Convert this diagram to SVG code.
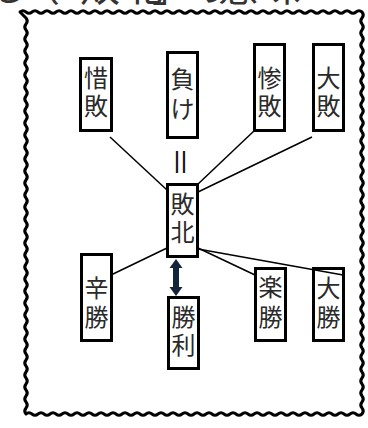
<svg xmlns="http://www.w3.org/2000/svg" width="368" height="428" viewBox="0 0 368 428">
<style>
.box{fill:#fff;stroke:#000;stroke-width:3}
.lbl{font-family:"Noto Sans CJK JP","Noto Sans CJK SC",sans-serif;font-size:24px;fill:#2a2a2a;text-anchor:middle}
.hdr{font-family:"Noto Sans CJK JP",sans-serif;font-size:40px;fill:#333;text-anchor:middle}
.con{stroke:#000;stroke-width:1.5;fill:none}
.frame{fill:none;stroke:#000;stroke-width:3;stroke-linejoin:round}
</style>
<rect width="368" height="428" fill="#fff"/>
<text class="hdr" y="0.5"><tspan x="8">る</tspan><tspan x="40">（</tspan><tspan x="68">「</tspan><tspan x="100">敗</tspan><tspan x="143">北</tspan><tspan x="172">」</tspan><tspan x="207">の</tspan><tspan x="238">意</tspan><tspan x="281">味</tspan></text>
<path class="frame" d="M20,12 q3,-2.5 6,0 t6 0 t6 0 t6 0 t6 0 t6 0 t6 0 t6 0 t6 0 t6 0 t6 0 t6 0 t6 0 t6 0 t6 0 t6 0 t6 0 t6 0 t6 0 t6 0 t6 0 t6 0 t6 0 t6 0 t6 0 t6 0 t6 0 t6 0 t6 0 t6 0 t6 0 t6 0 t6 0 t6 0 t6 0 t6 0 t6 0 t6 0 t6 0 t6 0 t6 0 t6 0 t6 0 t6 0 t6 0 t6 0 t6 0 t6 0 t6 0 t6 0 t6 0 t6 0 t6 0 t6 0 t6 0 t6 0 t6 0
q2.5,3 0,6 t0 6 t0 6 t0 6 t0 6 t0 6 t0 6 t0 6 t0 6 t0 6 t0 6 t0 6 t0 6 t0 6 t0 6 t0 6 t0 6 t0 6 t0 6 t0 6 t0 6 t0 6 t0 6 t0 6 t0 6 t0 6 t0 6 t0 6 t0 6 t0 6 t0 6 t0 6 t0 6 t0 6 t0 6 t0 6 t0 6 t0 6 t0 6 t0 6 t0 6 t0 6 t0 6 t0 6 t0 6 t0 6 t0 6 t0 6 t0 6 t0 6 t0 6 t0 6 t0 6 t0 6 t0 6 t0 6 t0 6 t0 6 t0 6 t0 6 t0 6 t0 6 t0 6 t0 6 t0 6 t0 6 t0 6
q-3,2.5 -6,0 t-6 0 t-6 0 t-6 0 t-6 0 t-6 0 t-6 0 t-6 0 t-6 0 t-6 0 t-6 0 t-6 0 t-6 0 t-6 0 t-6 0 t-6 0 t-6 0 t-6 0 t-6 0 t-6 0 t-6 0 t-6 0 t-6 0 t-6 0 t-6 0 t-6 0 t-6 0 t-6 0 t-6 0 t-6 0 t-6 0 t-6 0 t-6 0 t-6 0 t-6 0 t-6 0 t-6 0 t-6 0 t-6 0 t-6 0 t-6 0 t-6 0 t-6 0 t-6 0 t-6 0 t-6 0 t-6 0 t-6 0 t-6 0 t-6 0 t-6 0 t-6 0 t-6 0 t-6 0 t-6 0 t-6 0
q-2.5,-3 0,-6 t0 -6 t0 -6 t0 -6 t0 -6 t0 -6 t0 -6 t0 -6 t0 -6 t0 -6 t0 -6 t0 -6 t0 -6 t0 -6 t0 -6 t0 -6 t0 -6 t0 -6 t0 -6 t0 -6 t0 -6 t0 -6 t0 -6 t0 -6 t0 -6 t0 -6 t0 -6 t0 -6 t0 -6 t0 -6 t0 -6 t0 -6 t0 -6 t0 -6 t0 -6 t0 -6 t0 -6 t0 -6 t0 -6 t0 -6 t0 -6 t0 -6 t0 -6 t0 -6 t0 -6 t0 -6 t0 -6 t0 -6 t0 -6 t0 -6 t0 -6 t0 -6 t0 -6 t0 -6 t0 -6 t0 -6 t0 -6 t0 -6 t0 -6 t0 -6 t0 -6 t0 -6 t0 -6 t0 -6 t0 -6 t0 -6 Z"/>
<g id="connectors">
<line class="con" x1="110" y1="137" x2="167" y2="190"/>
<line class="con" x1="255" y1="130" x2="197" y2="185"/>
<line class="con" x1="312" y1="137" x2="198" y2="192"/>
<line class="con" x1="167" y1="248" x2="111" y2="275"/>
<line class="con" x1="198" y1="248" x2="255" y2="275"/>
<path d="M176,259 L182.5,268 L179,268 L179,287 L182.5,287 L176,296 L169.5,287 L173,287 L173,268 L169.5,268 Z" fill="#14243a"/>
</g>
<g id="n-sekihai"><rect class="box" x="80.5" y="58.5" width="31" height="72"/><text class="lbl" x="96" y="87">惜</text><text class="lbl" x="96" y="115">敗</text></g>
<g id="n-make"><rect class="box" x="167.5" y="52.5" width="30" height="85"/><text class="lbl" x="182.5" y="88">負</text><text class="lbl" x="182.5" y="118">け</text></g>
<g id="n-sanpai"><rect class="box" x="254.5" y="44.5" width="30" height="86"/><text class="lbl" x="269.5" y="87">惨</text><text class="lbl" x="269.5" y="115">敗</text></g>
<g id="n-taihai"><rect class="box" x="313.5" y="44.5" width="30" height="86"/><text class="lbl" x="328.5" y="87">大</text><text class="lbl" x="328.5" y="115">敗</text></g>
<g id="n-equal"><text class="lbl" x="0" y="0" dominant-baseline="central" transform="translate(182,162) rotate(90)" style="font-size:30px;fill:#111">＝</text></g>
<g id="n-haiboku"><rect class="box" x="167.5" y="184.5" width="30" height="72"/><text class="lbl" x="182.5" y="213">敗</text><text class="lbl" x="182.5" y="241">北</text></g>
<g id="n-shinsho"><rect class="box" x="81.5" y="254.5" width="30" height="86"/><text class="lbl" x="96.5" y="297">辛</text><text class="lbl" x="96.5" y="326">勝</text></g>
<g id="n-shori"><rect class="box" x="168.5" y="297.5" width="30" height="71"/><text class="lbl" x="183.5" y="326">勝</text><text class="lbl" x="183.5" y="354">利</text></g>
<g id="n-rakusho"><rect class="box" x="255.5" y="268.5" width="30" height="72"/><text class="lbl" x="270.5" y="296">楽</text><text class="lbl" x="270.5" y="326">勝</text></g>
<g id="n-taisho"><rect class="box" x="313.5" y="268.5" width="30" height="72"/><text class="lbl" x="328.5" y="297">大</text><text class="lbl" x="328.5" y="326">勝</text></g>
<line class="con" x1="198" y1="249" x2="343" y2="275"/>
</svg>
